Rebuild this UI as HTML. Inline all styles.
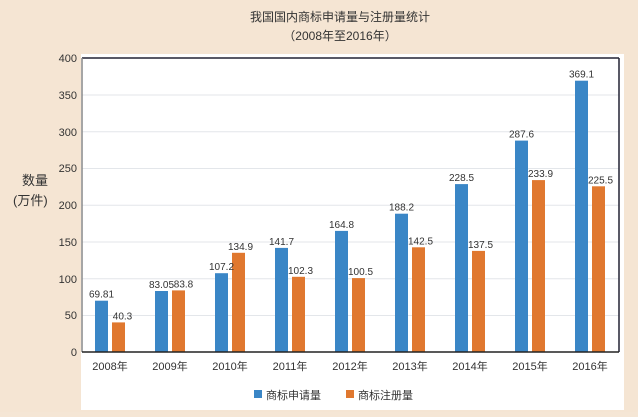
<!DOCTYPE html>
<html><head><meta charset="utf-8"><style>
body{margin:0;width:638px;height:412px;background:#f5e6d5;overflow:hidden;}
</style></head><body>
<svg width="638" height="412" xmlns="http://www.w3.org/2000/svg" font-family="Liberation Sans, Noto Sans CJK SC, sans-serif">
<rect x="0" y="0" width="638" height="412" fill="#f5e5d3"/>
<rect x="81" y="54" width="543" height="356" fill="#ffffff"/>
<text x="340" y="21" font-size="12" text-anchor="middle" fill="#333">我国国内商标申请量与注册量统计</text>
<text x="340" y="40" font-size="12" text-anchor="middle" fill="#333">（2008年至2016年）</text>
<text x="22" y="185" font-size="13" fill="#333">数量</text>
<text x="13" y="205" font-size="13" fill="#333">(万件)</text>
<g stroke="#e3e6ea" stroke-width="1">
<line x1="82" x2="619" y1="95" y2="95"/><line x1="82" x2="619" y1="131.8" y2="131.8"/>
<line x1="82" x2="619" y1="168.5" y2="168.5"/><line x1="82" x2="619" y1="205.3" y2="205.3"/>
<line x1="82" x2="619" y1="242" y2="242"/><line x1="82" x2="619" y1="278.8" y2="278.8"/>
<line x1="82" x2="619" y1="315.5" y2="315.5"/>
</g>
<g font-size="11" fill="#333" text-anchor="end">
<text x="77" y="62">400</text><text x="77" y="99">350</text><text x="77" y="136">300</text>
<text x="77" y="172">250</text><text x="77" y="209">200</text><text x="77" y="246">150</text>
<text x="77" y="283">100</text><text x="77" y="319">50</text><text x="77" y="356">0</text>
</g>
<g fill="#3a86c6">
<rect x="95" y="300.7" width="13" height="51.3"/>
<rect x="155" y="291" width="13" height="61"/>
<rect x="215" y="273.2" width="13" height="78.8"/>
<rect x="275" y="247.9" width="13" height="104.1"/>
<rect x="335" y="230.9" width="13" height="121.1"/>
<rect x="395" y="213.7" width="13" height="138.3"/>
<rect x="455" y="184.1" width="13" height="167.9"/>
<rect x="515" y="140.6" width="13" height="211.4"/>
<rect x="575" y="80.7" width="13" height="271.3"/>
</g>
<g fill="#e0782f">
<rect x="112" y="322.4" width="13" height="29.6"/>
<rect x="172" y="290.4" width="13" height="61.6"/>
<rect x="232" y="252.8" width="13" height="99.2"/>
<rect x="292" y="276.8" width="13" height="75.2"/>
<rect x="352" y="278.1" width="13" height="73.9"/>
<rect x="412" y="247.3" width="13" height="104.7"/>
<rect x="472" y="250.9" width="13" height="101.1"/>
<rect x="532" y="180.1" width="13" height="171.9"/>
<rect x="592" y="186.3" width="13" height="165.7"/>
</g>
<g font-size="10" fill="#333" text-anchor="middle">
<text x="101.5" y="297.7">69.81</text>
<text x="161.5" y="288">83.05</text>
<text x="221.5" y="270.2">107.2</text>
<text x="281.5" y="244.9">141.7</text>
<text x="341.5" y="227.9">164.8</text>
<text x="401.5" y="210.7">188.2</text>
<text x="461.5" y="181.1">228.5</text>
<text x="521.5" y="137.6">287.6</text>
<text x="581.5" y="77.7">369.1</text>
<text x="122.5" y="319.4">40.3</text>
<text x="183.5" y="287.4">83.8</text>
<text x="240.5" y="249.8">134.9</text>
<text x="300.5" y="273.8">102.3</text>
<text x="360.5" y="275.1">100.5</text>
<text x="420.5" y="244.3">142.5</text>
<text x="480.5" y="247.9">137.5</text>
<text x="540.5" y="177.1">233.9</text>
<text x="600.5" y="183.3">225.5</text>
</g>
<g font-size="11" fill="#333" text-anchor="middle">
<text x="110" y="370">2008年</text><text x="170" y="370">2009年</text><text x="230" y="370">2010年</text>
<text x="290" y="370">2011年</text><text x="350" y="370">2012年</text><text x="410" y="370">2013年</text>
<text x="470" y="370">2014年</text><text x="530" y="370">2015年</text><text x="590" y="370">2016年</text>
</g>
<line x1="82" y1="58" x2="619" y2="58" stroke="#223" stroke-width="1.5"/>
<line x1="619" y1="58" x2="619" y2="352" stroke="#223" stroke-width="1.5"/>
<line x1="82" y1="58" x2="82" y2="352" stroke="#888" stroke-width="1.5"/>
<line x1="82" y1="352" x2="619" y2="352" stroke="#222" stroke-width="1.5"/>
<rect x="254" y="390" width="8" height="8" fill="#3a86c6"/>
<text x="266" y="399" font-size="11" fill="#333">商标申请量</text>
<rect x="346" y="390" width="8" height="8" fill="#e0782f"/>
<text x="358" y="399" font-size="11" fill="#333">商标注册量</text>
</svg>
</body></html>
